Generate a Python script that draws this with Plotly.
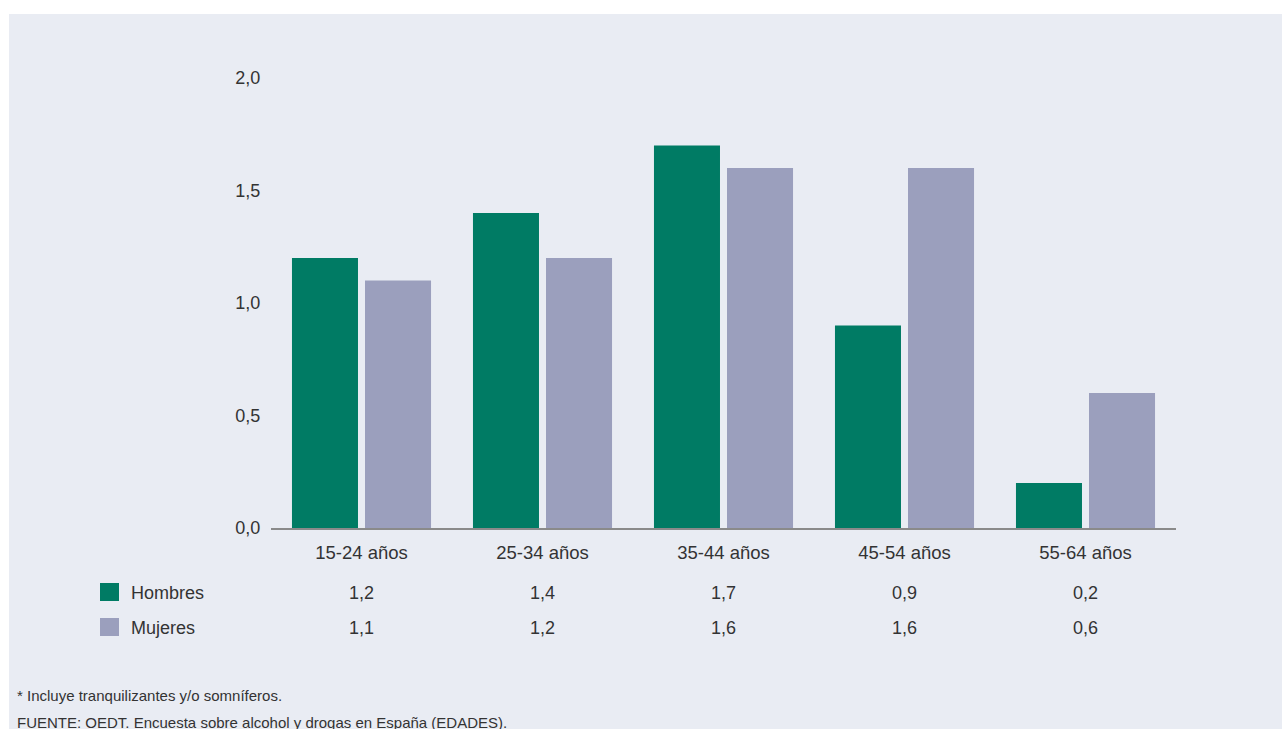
import plotly.graph_objects as go

categories = ["15-24 años", "25-34 años", "35-44 años", "45-54 años", "55-64 años"]
hombres = [1.2, 1.4, 1.7, 0.9, 0.2]
mujeres = [1.1, 1.2, 1.6, 1.6, 0.6]
series_names = ["Hombres", "Mujeres"]
colors = ["#007b64", "#9b9fbd"]
y_ticks = [0.0, 0.5, 1.0, 1.5, 2.0]
y_ticklabels = ["0,0", "0,5", "1,0", "1,5", "2,0"]
footnotes = ["* Incluye tranquilizantes y/o somníferos.",
             "FUENTE: OEDT. Encuesta sobre alcohol y drogas en España (EDADES)."]

W, H = 1282, 729
L, R, T, B = 271, 1282 - 1176, 78, 729 - 528
PW, PH = W - L - R, H - T - B
BG = "#e9ecf3"
FONT = "Liberation Sans, Arial, sans-serif"
TXT = "#333333"
FS = 18

def px(x):
    return (x - L) / PW

def py(y):
    return (H - B - y) / PH

fig = go.Figure()
for name, vals, c in zip(series_names, [hombres, mujeres], colors):
    fig.add_trace(go.Bar(x=categories, y=vals, name=name, marker_color=c,
                         marker_line_width=0, showlegend=False))

# white strips at top and left of the grey panel
shapes = [dict(type="rect", xref="paper", yref="paper", x0=px(-5), x1=px(W + 5),
               y0=py(-5), y1=py(14), fillcolor="white", line_width=0, layer="below"),
          dict(type="rect", xref="paper", yref="paper", x0=px(-5), x1=px(9),
               y0=py(-5), y1=py(H + 5), fillcolor="white", line_width=0, layer="below")]
annotations = []
row_y = [593, 628]
for i, (name, vals, c) in enumerate(zip(series_names, [hombres, mujeres], colors)):
    yc = row_y[i]
    shapes.append(dict(type="rect", xref="paper", yref="paper", x0=px(100), x1=px(119),
                       y0=py(yc - 10), y1=py(yc + 8), fillcolor=c, line_width=0))
    annotations.append(dict(text=name, xref="paper", yref="paper", x=px(129), y=py(yc),
                            xanchor="left", yanchor="middle", showarrow=False,
                            font=dict(size=FS, color=TXT, family=FONT)))
    for cat, v in zip(categories, vals):
        annotations.append(dict(text=f"{v:.1f}".replace(".", ","), xref="x", yref="paper",
                                x=cat, y=py(yc), xanchor="center", yanchor="middle",
                                showarrow=False, font=dict(size=FS, color=TXT, family=FONT)))
for t, yy in zip(footnotes, [695, 722]):
    annotations.append(dict(text=t, xref="paper", yref="paper", x=px(15), y=py(yy),
                            xanchor="left", yanchor="middle", showarrow=False,
                            font=dict(size=15, color=TXT, family=FONT)))

fig.update_layout(
    width=W, height=H, autosize=False,
    margin=dict(l=L, r=R, t=T, b=B, pad=0),
    paper_bgcolor=BG, plot_bgcolor=BG,
    barmode="group", bargap=0.193, bargroupgap=0.096,
    font=dict(family=FONT, size=FS, color=TXT),
    shapes=shapes, annotations=annotations,
    xaxis=dict(showgrid=False, showline=True, linecolor="#8a8a8a", linewidth=2,
               ticks="outside", ticklen=7, tickcolor=BG, tickfont=dict(size=18.5, color=TXT)),
    yaxis=dict(range=[0, 2.0], tickvals=y_ticks, ticktext=y_ticklabels, showgrid=False,
               zeroline=False, showline=False, ticks="outside", ticklen=6, tickcolor=BG,
               tickfont=dict(size=FS, color=TXT)),
)
fig.write_html("out.html", config={"displayModeBar": False},
               post_script="document.body.style.margin='0';document.body.style.overflow='hidden';"
                           "document.documentElement.style.overflow='hidden';")
